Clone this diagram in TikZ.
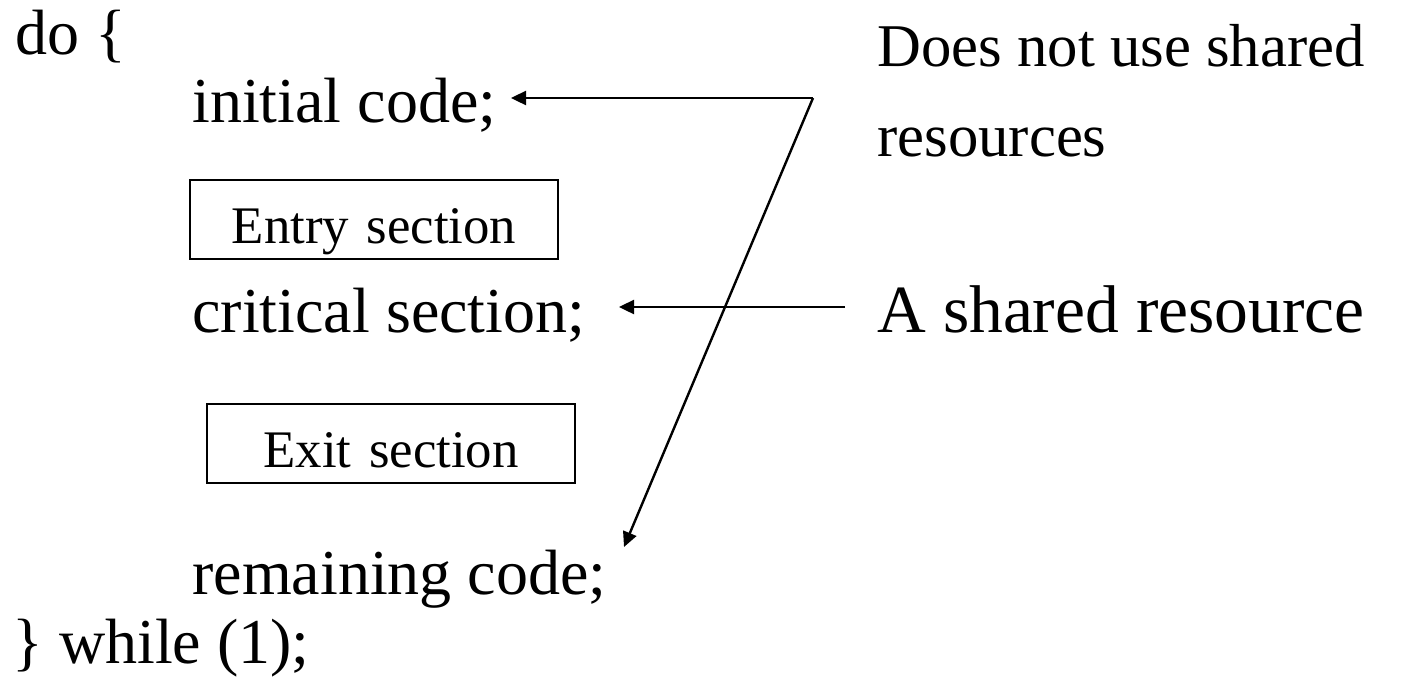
\documentclass[tikz,border=0pt]{standalone}
\usepackage{fontspec}
\setmainfont{Liberation Serif}
\usetikzlibrary{arrows.meta}
\begin{document}
\begin{tikzpicture}[x=0.5pt,y=-0.5pt,
  code/.style={anchor=base west,inner sep=0pt,font=\fontsize{32}{38}\selectfont},
  note/.style={anchor=base west,inner sep=0pt,font=\fontsize{30.35}{36}\selectfont},
  bignote/.style={anchor=base west,inner sep=0pt,font=\fontsize{33.75}{40}\selectfont},
  sectbox/.style={draw,line width=1pt,inner sep=0pt,anchor=north west,align=center,
    font=\fontsize{26.4}{32}\selectfont,text width=184pt,text height=31.5pt,text depth=8pt},
  pointer/.style={line width=1.2pt,-{Triangle[length=7.5pt,width=7pt]}}]
\useasboundingbox (0,0) rectangle (1410,681);

% the loop skeleton
\node[code] (do)    at (15,54)   {do \{};
\node[code] (init)  at (192,122) {initial code;};
\node[sectbox] (entry) at (189,179) {Entry section};
\node[code] (crit)  at (192,332) {critical section;};
\node[sectbox] (exit) at (206,403) {Exit section};
\node[code] (rem)   at (192,594) {remaining code;};
\node[code] (while) at (12,663)  {\} while (1);};

% annotations on the right
\node[note] (nouse1) at (877,66)  {Does not use shared};
\node[note] (nouse2) at (877,156) {resources};
\node[bignote] (shared) at (877,332) {A shared resource};

% pointers
\coordinate (j)  at (813,98);
\coordinate (t1) at (511,98);
\coordinate (t3) at (624,547);
\coordinate (s)  at (845,307);
\coordinate (t2) at (619,307);
\draw[pointer] (j) -- (t1);
\draw[pointer] (j) -- (t3);
\draw[pointer] (s) -- (t2);
\end{tikzpicture}
\end{document}
